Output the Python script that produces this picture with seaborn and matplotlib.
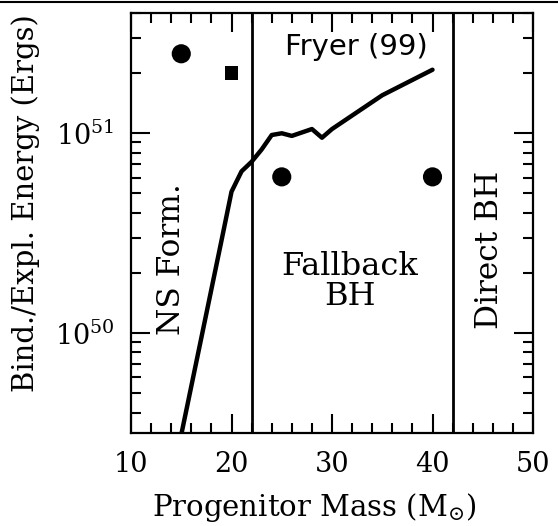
import numpy as np
import pandas as pd
import seaborn as sns
import matplotlib.pyplot as plt
from matplotlib.ticker import MultipleLocator, LogLocator, NullFormatter
from matplotlib.lines import Line2D

# Fryer (99) binding / explosion energy curve
curve_mass = [15, 19, 20, 21, 22, 23, 24, 25, 26, 28, 29, 30, 35, 40]
curve_energy = [3.1e49, 2.9e50, 5.1e50, 6.45e50, 7.2e50, 8.3e50, 9.8e50,
                1.0e51, 9.7e50, 1.05e51, 9.5e50, 1.05e51, 1.55e51, 2.08e51]

# explosion energies (circles) and one square point
dot_mass = [15, 25, 40]
dot_energy = [2.5e51, 6.05e50, 6.05e50]
sq_mass = [20]
sq_energy = [2.0e51]

# boundaries between regimes
bounds = [22, 42]

sns.set_style('ticks')
plt.rcParams['font.family'] = ['DejaVu Serif']
plt.rcParams['mathtext.fontset'] = 'dejavuserif'
plt.rcParams['text.color'] = 'black'
plt.rcParams['axes.labelcolor'] = 'black'

fig = plt.figure(figsize=(5.58, 5.26), dpi=100)
ax = fig.add_axes([0.2348, 0.1768, 0.7204, 0.7985])

df = pd.DataFrame({'mass': curve_mass, 'energy': curve_energy})
sns.lineplot(data=df, x='mass', y='energy', sort=False, estimator=None,
             color='black', linewidth=3.2, ax=ax)
sns.scatterplot(x=dot_mass, y=dot_energy, color='black', s=190, marker='o',
                edgecolor='none', ax=ax)
sns.scatterplot(x=sq_mass, y=sq_energy, color='black', s=95, marker='s',
                edgecolor='none', ax=ax)
for b in bounds:
    ax.axvline(b, color='black', linewidth=2.0)

ax.set_yscale('log')
ax.set_xlim(10, 50)
ax.set_ylim(3.16e49, 4.0e51)

ax.xaxis.set_major_locator(MultipleLocator(10))
ax.xaxis.set_minor_locator(MultipleLocator(2))
ax.yaxis.set_major_locator(LogLocator(base=10))
ax.yaxis.set_minor_locator(LogLocator(base=10, subs=np.arange(2, 10)))
ax.yaxis.set_minor_formatter(NullFormatter())

ax.tick_params(which='both', direction='in', top=True, right=True,
               colors='black', width=1.5)
ax.tick_params(which='major', length=14, labelsize=19.5)
ax.tick_params(which='minor', length=7)
ax.tick_params(axis='x', which='major', pad=13)
ax.tick_params(axis='y', which='major', pad=12)
for sp in ax.spines.values():
    sp.set_linewidth(1.6)
    sp.set_color('black')

ax.set_xlabel(r'Progenitor Mass (M$_{\odot}$)', fontsize=21)
ax.set_ylabel('Bind./Expl. Energy (Ergs)', fontsize=21)
ax.xaxis.set_label_coords(0.455, -0.138)
ax.yaxis.set_label_coords(-0.226, 0.548)

ax.text(0.10, 0.415, 'NS Form.', transform=ax.transAxes, rotation=90,
        ha='center', va='center', fontsize=22.5)
ax.text(0.545, 0.36, 'Fallback\nBH', transform=ax.transAxes,
        ha='center', va='center', fontsize=23, linespacing=0.95)
ax.text(0.893, 0.435, 'Direct BH', transform=ax.transAxes, rotation=90,
        ha='center', va='center', fontsize=22.5)
ax.text(0.56, 0.918, 'Fryer (99)', transform=ax.transAxes,
        ha='center', va='center', fontsize=21, family=['DejaVu Sans'])

# thin black border along the top edge of the scan
fig.add_artist(Line2D([0, 1], [0.997, 0.997], transform=fig.transFigure,
                      color='black', linewidth=1.5))

fig.savefig('out.png', dpi=100)
